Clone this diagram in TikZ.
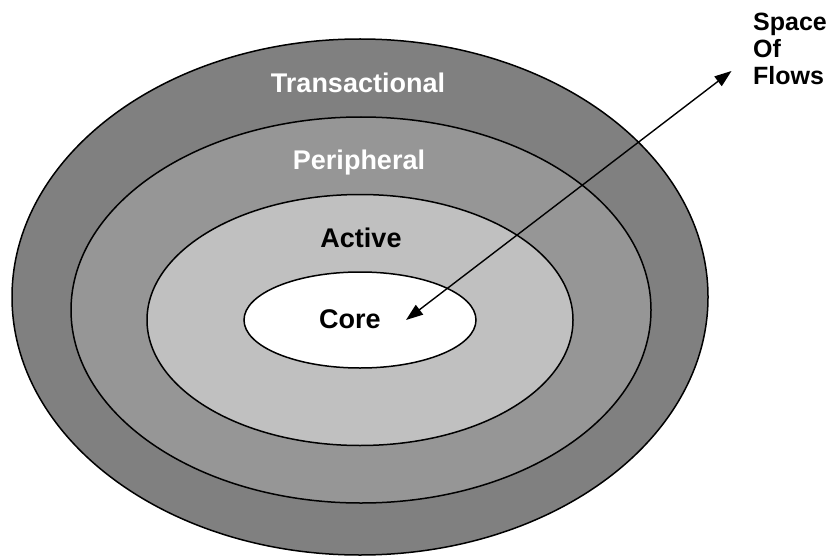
\documentclass[tikz,border=0pt]{standalone}
\usepackage{fontspec}
\setmainfont{Liberation Sans}
\usetikzlibrary{shapes.geometric,arrows.meta}
\definecolor{ringA}{RGB}{128,128,128}
\definecolor{ringB}{RGB}{150,150,150}
\definecolor{ringC}{RGB}{192,192,192}
\tikzset{
  ring/.style={ellipse, draw=black, line width=1.5pt, inner sep=0pt},
  lbl/.style={font=\fontsize{27}{29}\selectfont\bfseries, inner sep=0pt, anchor=base},
  flow/.style={line width=1.4pt, {Triangle[length=17pt,width=12pt]}-{Triangle[length=17pt,width=12pt]}}
}
\begin{document}
\begin{tikzpicture}[x=1pt,y=-1pt]
\useasboundingbox (0,0) rectangle (834,556);
\node[ring, fill=ringA, minimum width=696pt, minimum height=516pt] (outer) at (360,297) {};
\node[ring, fill=ringB, minimum width=580pt, minimum height=386pt] (periph) at (361,310) {};
\node[ring, fill=ringC, minimum width=426pt, minimum height=251pt] (active) at (360,320) {};
\node[ring, fill=white, minimum width=232pt, minimum height=96pt] (core) at (360,320) {};
\node[lbl, text=white] (tTrans) at (358,93) {Transactional};
\node[lbl, text=white] (tPeri) at (359,170) {Peripheral};
\node[lbl] (tAct) at (361,247) {Active};
\node[lbl] (tCore) at (350,328) {Core};
\node[font=\fontsize{25}{27}\selectfont\bfseries, inner sep=0pt, align=left, anchor=north west] (space) at (753,13) {Space\\Of\\Flows};
\coordinate (pin) at (406,320);
\coordinate (pout) at (731.5,71);
\draw[flow] (pin) -- (pout);
\end{tikzpicture}
\end{document}
